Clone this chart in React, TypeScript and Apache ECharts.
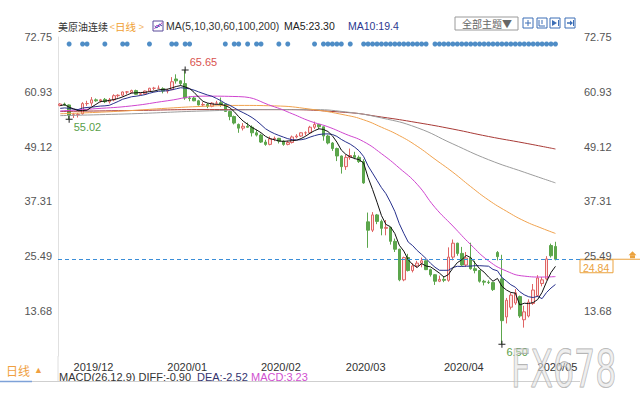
import React, { useEffect, useRef } from "react";
import * as echarts from "echarts";

// ---------- data ----------
const DATES = [
  "2019/11/26", "2019/11/27", "2019/11/29",
  "2019/12/02", "2019/12/03", "2019/12/04", "2019/12/05", "2019/12/06", "2019/12/09", "2019/12/10", "2019/12/11", "2019/12/12", "2019/12/13",
  "2019/12/16", "2019/12/17", "2019/12/18", "2019/12/19", "2019/12/20", "2019/12/23", "2019/12/24", "2019/12/26", "2019/12/27", "2019/12/30", "2019/12/31",
  "2020/01/02", "2020/01/03", "2020/01/06", "2020/01/07", "2020/01/08", "2020/01/09", "2020/01/10", "2020/01/13", "2020/01/14", "2020/01/15", "2020/01/16",
  "2020/01/17", "2020/01/21", "2020/01/22", "2020/01/23", "2020/01/24", "2020/01/27", "2020/01/28", "2020/01/29", "2020/01/30", "2020/01/31",
  "2020/02/03", "2020/02/04", "2020/02/05", "2020/02/06", "2020/02/07", "2020/02/10", "2020/02/11", "2020/02/12", "2020/02/13", "2020/02/14",
  "2020/02/18", "2020/02/19", "2020/02/20", "2020/02/21", "2020/02/24", "2020/02/25", "2020/02/26", "2020/02/27", "2020/02/28",
  "2020/03/02", "2020/03/03", "2020/03/04", "2020/03/05", "2020/03/06", "2020/03/09", "2020/03/10", "2020/03/11", "2020/03/12", "2020/03/13",
  "2020/03/16", "2020/03/17", "2020/03/18", "2020/03/19", "2020/03/20", "2020/03/23", "2020/03/24", "2020/03/25", "2020/03/26", "2020/03/27",
  "2020/03/30", "2020/03/31",
  "2020/04/01", "2020/04/02", "2020/04/03", "2020/04/06", "2020/04/07", "2020/04/08", "2020/04/09", "2020/04/13", "2020/04/14", "2020/04/15",
  "2020/04/16", "2020/04/17", "2020/04/20", "2020/04/21", "2020/04/22", "2020/04/23", "2020/04/24", "2020/04/27", "2020/04/28", "2020/04/29", "2020/04/30",
  "2020/05/01", "2020/05/04", "2020/05/05", "2020/05/06", "2020/05/07",
];

const OPEN = [
  58.0, 58.3, 58.1,
  55.9, 56.0, 56.2, 58.4, 58.5, 59.2, 59.0, 59.3, 58.8, 59.2,
  60.1, 60.2, 60.9, 60.8, 61.2, 60.4, 60.5, 61.1, 61.7, 61.7, 61.6,
  61.1, 61.4, 63.7, 63.3, 62.7, 59.6, 59.6, 59.0, 58.1, 58.2, 57.8,
  58.5, 58.6, 58.3, 56.7, 55.6, 53.9, 53.1, 53.5, 53.3, 52.1,
  51.6, 50.1, 49.6, 50.8, 50.9, 50.3, 49.6, 50.0, 51.2, 51.4,
  52.1, 52.1, 53.3, 53.9, 53.4, 51.4, 49.9, 48.7, 47.1,
  44.8, 46.8, 47.2, 46.8, 45.9, 32.9, 31.1, 34.4, 33.0, 31.5,
  31.7, 28.7, 27.0, 20.4, 25.2, 22.4, 23.4, 24.0, 24.5, 22.6,
  21.5, 20.1,
  20.5, 20.3, 25.3, 28.3, 26.1, 23.6, 25.1, 22.8, 22.4, 20.1,
  19.9, 19.8, 26.3, 20.6, 12.4, 14.5, 15.4, 16.8, 11.8, 12.6, 15.3,
  17.0, 19.6, 20.6, 27.8, 27.6,
];

const HIGH = [
  58.5, 58.6, 58.2,
  56.4, 56.4, 58.7, 59.0, 59.8, 59.5, 59.4, 59.6, 59.6, 60.4,
  60.4, 61.0, 61.1, 61.4, 61.4, 60.7, 61.2, 61.8, 62.0, 62.3, 61.9,
  61.6, 64.1, 64.7, 63.4, 65.65, 60.0, 59.9, 59.2, 58.7, 58.5, 58.7,
  59.0, 59.7, 58.4, 56.9, 55.8, 54.1, 54.2, 54.3, 53.7, 52.8,
  51.9, 50.6, 51.3, 51.3, 51.0, 50.5, 50.4, 51.5, 51.8, 52.2,
  52.4, 53.6, 54.5, 54.0, 53.4, 51.7, 50.1, 48.9, 47.2,
  47.4, 48.7, 48.0, 47.2, 46.4, 34.9, 35.0, 34.6, 33.4, 33.3,
  31.8, 29.3, 27.1, 25.4, 26.0, 24.0, 24.5, 25.2, 24.6, 22.8,
  21.6, 21.3,
  21.2, 27.4, 29.1, 28.4, 27.5, 26.4, 28.4, 24.5, 22.5, 20.4,
  20.3, 20.0, 26.6, 25.8, 16.5, 17.6, 18.4, 17.0, 14.8, 16.2, 19.5,
  21.4, 21.0, 25.5, 28.2, 28.6,
];

const LOW = [
  57.8, 57.9, 55.02,
  55.3, 55.4, 56.0, 57.9, 57.9, 58.8, 58.6, 58.5, 58.4, 58.9,
  59.7, 59.9, 60.4, 60.6, 60.3, 60.2, 60.4, 61.0, 61.3, 61.5, 60.6,
  60.6, 61.3, 62.7, 62.3, 59.2, 58.9, 58.9, 58.0, 57.8, 57.4, 57.6,
  58.2, 57.7, 56.6, 54.8, 53.9, 52.1, 52.6, 53.2, 51.3, 51.3,
  49.9, 49.3, 49.4, 50.3, 49.8, 49.3, 49.4, 49.8, 50.9, 51.2,
  51.5, 52.0, 52.9, 52.9, 50.4, 49.6, 48.2, 46.0, 43.3,
  44.1, 46.3, 46.4, 45.6, 41.1, 27.3, 30.7, 32.4, 30.0, 30.0,
  28.0, 26.4, 20.1, 20.1, 22.2, 22.0, 23.0, 23.1, 22.5, 21.1,
  19.3, 19.9,
  19.9, 20.0, 24.6, 25.6, 23.4, 23.2, 22.6, 21.8, 19.8, 19.2,
  19.5, 18.0, 24.6, 6.5, 11.0, 14.0, 15.0, 12.2, 10.1, 12.3, 15.0,
  16.7, 19.0, 20.3, 25.2, 24.6,
];

const CLOSE = [
  58.3, 58.1, 55.9,
  56.0, 56.1, 58.4, 58.4, 59.2, 59.0, 59.2, 58.8, 59.2, 60.1,
  60.2, 60.9, 60.9, 61.2, 60.4, 60.5, 61.1, 61.7, 61.7, 61.7, 61.1,
  61.2, 63.1, 63.3, 62.7, 59.6, 59.5, 59.0, 58.1, 58.2, 57.8, 58.5,
  58.5, 58.3, 56.7, 55.6, 54.2, 53.1, 53.5, 53.3, 52.1, 51.6,
  50.1, 49.6, 50.8, 50.9, 50.3, 49.6, 50.0, 51.2, 51.4, 52.1,
  52.1, 53.3, 53.9, 53.4, 51.4, 49.9, 48.7, 47.1, 44.8,
  46.8, 47.2, 46.8, 45.9, 41.3, 31.1, 34.4, 33.0, 31.5, 31.7,
  28.7, 27.0, 20.4, 25.2, 22.4, 23.4, 24.0, 24.5, 22.6, 21.5,
  20.1, 20.5,
  20.3, 25.3, 28.3, 26.1, 23.6, 25.1, 22.8, 22.4, 20.1, 19.9,
  19.8, 18.3, 25.4, 11.6, 16.0, 17.1, 17.6, 12.6, 13.5, 15.6, 18.2,
  20.8, 20.4, 24.9, 25.6, 24.84,
];

// closes of the sessions just before the window (for the short averages)
const PRE_CLOSES = [57.12, 56.77, 57.72, 57.05, 55.21, 57.11, 58.58, 57.77, 58.01];

// longer averages: [session index, value]
const MA30_PTS = [[0, 56.8], [8, 57.3], [16, 57.9], [24, 59.0], [32, 60.0], [40, 59.9], [48, 57.7], [52, 56.2], [56, 54.6], [60, 53.4], [64, 51.8], [68, 50.2], [72, 47.6], [76, 44.5], [80, 41.0], [84, 36.0], [88, 32.0], [92, 28.0], [96, 24.5], [100, 22.3], [104, 21.2], [108, 21.0], [111, 21.1]];
const MA60_PTS = [[0, 56.2], [8, 56.5], [16, 56.9], [24, 57.4], [32, 57.8], [40, 58.0], [48, 57.9], [56, 57.2], [64, 55.9], [68, 54.9], [72, 53.3], [76, 51.5], [80, 49.2], [84, 46.4], [88, 43.6], [92, 40.5], [96, 37.6], [100, 35.2], [104, 33.1], [108, 31.5], [111, 30.4]];
const MA100_PTS = [[0, 55.8], [16, 56.2], [32, 56.8], [48, 57.1], [56, 57.1], [64, 56.6], [72, 55.3], [80, 53.2], [88, 49.7], [96, 46.3], [104, 43.6], [111, 41.3]];
const MA200_PTS = [[0, 56.7], [16, 56.9], [32, 57.1], [48, 57.1], [64, 56.5], [72, 55.5], [80, 54.3], [88, 52.9], [96, 51.3], [104, 49.9], [111, 48.6]];

const EVENT_IDX = [2, 5, 6, 10, 14, 15, 20, 25, 26, 28, 29, 37, 39, 40, 42, 44, 45, 49, 51, 57, 59, 60, 61, 62, 63, 65,
  68, 69, 70, 71, 72, 73, 74, 75, 76, 77, 78, 79, 80, 81, 82, 84,
  85, 86, 87, 88, 89, 90, 91, 92, 93, 94, 95, 96, 97, 98, 99, 100, 101, 102, 103, 104, 105, 106, 107, 108, 109, 110, 111];

const Y_TICKS = [13.68, 25.49, 37.31, 49.12, 60.93, 72.75];
const Y_MIN = 3.98;
const Y_MAX = 72.75;
const PAD_SLOTS = 5;
const LAST_PRICE = 24.84;
const MARK_HIGH_IDX = [28];
const MARK_LOW_IDX = [2, 99];

const TITLE = "美原油连续";
const PERIOD = "日线";
const MA_LABEL = "MA(5,10,30,60,100,200)";
const MA5_TEXT = "MA5:23.30";
const MA10_TEXT = "MA10:19.4";
const MACD_HEAD = "MACD(26,12,9) DIFF:-0.90";
const MACD_DEA = "DEA:-2.52";
const MACD_VAL = "MACD:3.23";

// ---------- helpers ----------
const F_LAT = '"Liberation Sans", Arial, "Noto Sans CJK SC", sans-serif';
const F_CJK = '"Noto Sans CJK SC", "Liberation Sans", sans-serif';

function movingAvg(n: number) {
  const all = [...PRE_CLOSES, ...CLOSE];
  return CLOSE.map((_, i) => {
    const end = i + PRE_CLOSES.length;
    const start = end - n + 1;
    if (start < 0) return null;
    let s = 0;
    for (let k = start; k <= end; k++) s += all[k];
    return +(s / n).toFixed(3);
  });
}

function sampled(pts: number[][]) {
  const arr: (number | null)[] = new Array(CLOSE.length).fill(null);
  pts.forEach(([i, v]) => (arr[i] = v));
  return arr;
}

function txt(x: number, y: number, text: string, fill: string, size = 11, family = F_LAT, extra: any = {}) {
  return {
    type: "text",
    x,
    y,
    silent: true,
    style: { text, fill, fontSize: size, fontFamily: family, verticalAlign: "middle", align: "left", ...extra },
  };
}

function lineEl(x1: number, y1: number, x2: number, y2: number, stroke: string, w = 1) {
  return { type: "line", silent: true, shape: { x1, y1, x2, y2 }, style: { stroke, lineWidth: w } };
}

function buildGraphic(yLast: number) {
  const blue = "#3d6fb6";
  const orange = "#eba23e";
  const icons: any[] = [];
  const iconX = [523, 537, 550, 565];
  iconX.forEach((x) => {
    icons.push({ type: "rect", silent: true, shape: { x, y: 18, width: 10, height: 10 }, style: { fill: "#fff", stroke: blue, lineWidth: 1 } });
  });
  // glyphs
  icons.push(lineEl(528, 20, 528, 26, blue), lineEl(525, 23, 531, 23, blue));
  icons.push({ type: "polyline", silent: true, shape: { points: [[539, 20], [539, 26], [545, 26]] }, style: { stroke: blue, fill: "none", lineWidth: 1 } });
  icons.push(lineEl(542, 20, 542, 24, blue));
  icons.push({ type: "polygon", silent: true, shape: { points: [[552, 20], [557, 23], [552, 26]] }, style: { fill: blue } });
  icons.push(lineEl(558.5, 20, 558.5, 26, blue));
  icons.push(lineEl(567, 23, 572, 23, blue, 1.5));
  icons.push({ type: "polygon", silent: true, shape: { points: [[570, 20.5], [573, 23], [570, 25.5]] }, style: { fill: blue } });
  icons.push(lineEl(573.5, 20, 573.5, 26, blue));

  return [
    // header
    txt(58, 26, TITLE, "#333", 10, F_CJK),
    txt(109.5, 26, "<", "#f3b466", 9.5, F_LAT),
    txt(115, 26, PERIOD, "#f0a030", 10.5, F_CJK),
    txt(138.5, 26, ">", "#f3b466", 9.5, F_LAT),
    { type: "rect", silent: true, shape: { x: 153, y: 21, width: 10, height: 10 }, style: { fill: "#fff", stroke: "#5a4a9a", lineWidth: 1 } },
    { type: "polyline", silent: true, shape: { points: [[154.5, 29], [157, 25], [159, 27], [162, 22.5]] }, style: { stroke: "#c63fc6", fill: "none", lineWidth: 1 } },
    { type: "polyline", silent: true, shape: { points: [[154.5, 26], [157, 28], [159.5, 24], [162, 26]] }, style: { stroke: "#3b5bb0", fill: "none", lineWidth: 1 } },
    txt(166, 26, MA_LABEL, "#333", 10.5),
    txt(284, 26, MA5_TEXT, "#222", 10.5),
    txt(348, 26, MA10_TEXT, "#2c3890", 10.5),
    // theme selector + tool icons
    { type: "rect", silent: true, shape: { x: 455, y: 17, width: 63, height: 13 }, style: { fill: "#fff", stroke: "#9a9a9a", lineWidth: 1 } },
    txt(462, 23.5, "全部主题▼", "#666", 10, F_CJK),
    ...icons,
    // bottom strip
    txt(6, 370, PERIOD, "#f0a040", 12, F_CJK),
    txt(34, 370, "▲", "#f0a040", 9, F_LAT),
    txt(59, 377, MACD_HEAD, "#333", 11),
    txt(197, 377, MACD_DEA, "#34346e", 11),
    txt(251, 377, MACD_VAL, "#d04fd0", 11),
    { type: "rect", silent: true, shape: { x: 0, y: 382, width: 640, height: 18 }, style: { fill: "#fff" } },
    lineEl(58, 356, 58, 381, "#dedede"),
    lineEl(0, 381.5, 580, 381.5, "#cfcfcf"),
    lineEl(0, 381.5, 32, 381.5, "#7ea2d8", 1.5),
    // last price tag on the right
    lineEl(580, yLast, 640, yLast, orange),
    { type: "rect", silent: true, shape: { x: 580, y: yLast + 0.5, width: 33, height: 13 }, style: { fill: "#fff", stroke: orange, lineWidth: 1 } },
    txt(583, yLast + 8.5, LAST_PRICE.toFixed(2), orange, 10.5),
    { type: "polygon", silent: true, shape: { points: [[632.5, yLast - 8], [636.5, yLast - 4], [628.5, yLast - 4]] }, style: { fill: orange } },
    { type: "rect", silent: true, shape: { x: 630, y: yLast - 4, width: 5, height: 3 }, style: { fill: orange } },
    // watermark
    {
      type: "text",
      silent: true,
      x: 511,
      y: 369,
      scaleX: 0.64,
      z: 100,
      style: {
        text: "FX678",
        fontSize: 52,
        fontFamily: '"DejaVu Sans", sans-serif',
        fill: "rgba(225,225,225,0.55)",
        stroke: "rgba(160,160,160,0.85)",
        lineWidth: 1.2,
        verticalAlign: "middle",
        align: "left",
      },
    },
  ];
}

export default function App() {
  const ref = useRef<HTMLDivElement>(null);

  useEffect(() => {
    const el = ref.current!;
    const chart = echarts.init(el, null, { renderer: "svg" });

    const categories = [...DATES, ...Array.from({ length: PAD_SLOTS }, (_, k) => "pad" + k)];
    const monthStart = DATES.map((d, i) => i > 0 && d.slice(0, 7) !== DATES[i - 1].slice(0, 7));

    const markData = [
      ...MARK_HIGH_IDX.map((i) => ({
        coord: [i, HIGH[i]],
        value: HIGH[i],
        label: { position: "right", distance: 1, offset: [0, -8], color: "#d9534f" },
      })),
      ...MARK_LOW_IDX.map((i) => ({
        coord: [i, LOW[i]],
        value: LOW[i],
        label: { position: "right", distance: 1, offset: [0, 8], color: "#5a9e4a" },
      })),
    ];

    const lineSeries = (name: string, data: any[], color: string, smooth: boolean | number = false) => ({
      type: "line",
      name,
      data,
      xAxisIndex: 0,
      yAxisIndex: 0,
      showSymbol: false,
      symbol: "none",
      connectNulls: true,
      smooth,
      silent: true,
      lineStyle: { color, width: 1 },
      z: 3,
    });

    const yLabel = {
      customValues: Y_TICKS,
      formatter: (v: number) => v.toFixed(2),
      color: "#555",
      fontSize: 11,
      fontFamily: F_LAT,
    };

    chart.setOption({
      animation: false,
      backgroundColor: "#fff",
      textStyle: { fontFamily: F_LAT },
      grid: [
        { left: 58, right: 60, top: 37, bottom: 44 },
        { left: 58, right: 60, top: 39, height: 10 },
      ],
      xAxis: [
        {
          type: "category",
          gridIndex: 0,
          data: categories,
          boundaryGap: true,
          axisLine: { show: false },
          axisTick: { show: false },
          splitLine: { show: false },
          axisLabel: {
            interval: (idx: number) => !!monthStart[idx],
            formatter: (v: string) => v.slice(0, 7),
            align: "left",
            margin: 5,
            color: "#333",
            fontSize: 11,
          },
        },
        { type: "category", gridIndex: 1, data: categories, show: false, boundaryGap: true },
      ],
      yAxis: [
        {
          type: "value",
          gridIndex: 0,
          min: Y_MIN,
          max: Y_MAX,
          position: "left",
          axisLine: { show: true, lineStyle: { color: "#e0e0e0" } },
          axisTick: { show: false },
          splitLine: { show: false },
          axisLabel: { ...yLabel, margin: 6 },
        },
        {
          type: "value",
          gridIndex: 0,
          min: Y_MIN,
          max: Y_MAX,
          position: "right",
          axisLine: { show: false },
          axisTick: { show: false },
          splitLine: { show: false },
          axisLabel: { ...yLabel, margin: 4, lineHeight: 12, padding: [0, 0, 2, 0] },
        },
        { type: "value", gridIndex: 1, min: -1, max: 1, show: false },
      ],
      series: [
        lineSeries("MA200", sampled(MA200_PTS), "#a83a36", true),
        lineSeries("MA100", sampled(MA100_PTS), "#9c9c9c", true),
        lineSeries("MA60", sampled(MA60_PTS), "#f0a24e", true),
        lineSeries("MA30", sampled(MA30_PTS), "#cf45cf", true),
        {
          type: "candlestick",
          name: "K",
          xAxisIndex: 0,
          yAxisIndex: 0,
          barWidth: 3,
          data: OPEN.map((o, i) => [o, CLOSE[i], LOW[i], HIGH[i]]),
          itemStyle: {
            color: "#fde6e6",
            color0: "#5ca64c",
            borderColor: "#df6464",
            borderColor0: "#5ca64c",
            borderWidth: 1,
          },
          z: 2,
          markLine: {
            silent: true,
            symbol: ["none", "none"],
            label: { show: false },
            lineStyle: { color: "#3b8ed8", type: [4, 3], width: 1 },
            data: [{ yAxis: LAST_PRICE }],
          },
          markPoint: {
            silent: true,
            symbol: "path://M3,0H4V7H3Z M0,3H7V4H0Z",
            symbolSize: 7,
            itemStyle: { color: "#222" },
            label: { fontSize: 11, fontFamily: F_LAT, formatter: (p: any) => Number(p.value).toFixed(2) },
            data: markData,
          },
        },
        lineSeries("MA10", movingAvg(10), "#27308c"),
        lineSeries("MA5", movingAvg(5), "#111111"),
        {
          type: "scatter",
          name: "events",
          xAxisIndex: 1,
          yAxisIndex: 2,
          symbol: "circle",
          symbolSize: 5,
          silent: true,
          itemStyle: { color: "#2370b8" },
          data: EVENT_IDX.map((i) => [i, 0]),
        },
      ],
    });

    const yLast = chart.convertToPixel({ yAxisIndex: 0 }, LAST_PRICE) as number;
    chart.setOption({ graphic: buildGraphic(yLast) });

    return () => chart.dispose();
  }, []);

  return (
    <div
      ref={ref}
      style={{ position: "fixed", left: 0, top: 0, width: 640, height: 400, background: "#fff" }}
    />
  );
}
